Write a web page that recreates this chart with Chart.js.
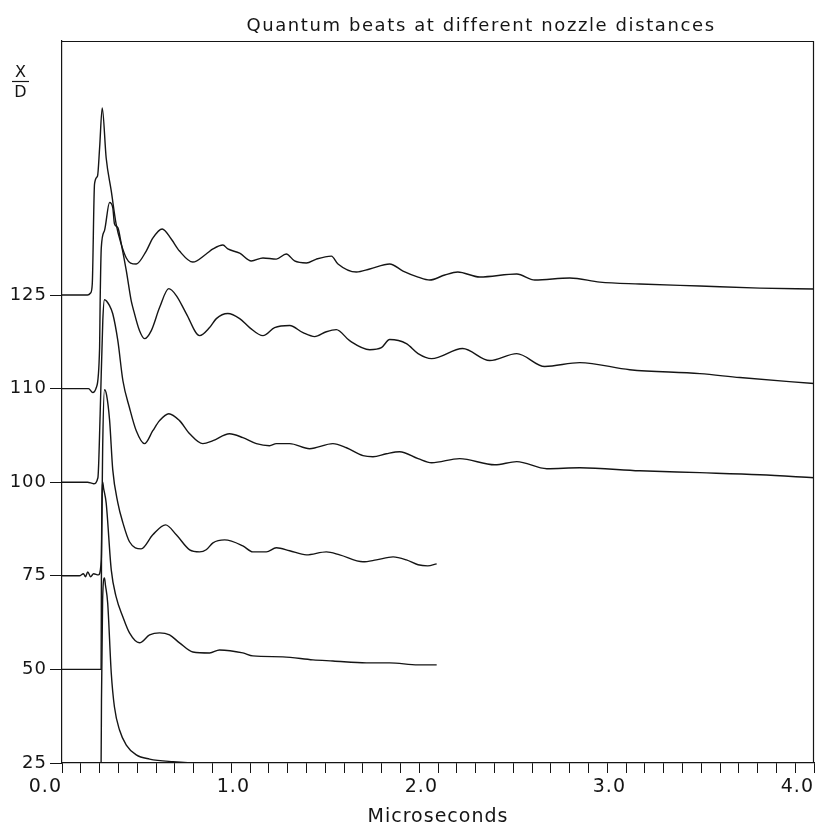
<!DOCTYPE html>
<html>
<head>
<meta charset="utf-8">
<title>Quantum beats at different nozzle distances</title>
<script src="https://cdn.jsdelivr.net/npm/chart.js@4.4.1/dist/chart.umd.min.js"></script>
<style>
  html, body { margin: 0; padding: 0; background: #fff; }
</style>
</head>
<body>
<canvas id="chart" width="817" height="824"></canvas>
<script>
const chartTitle = 'Quantum beats at different nozzle distances';
const xTitle = 'Microseconds';

// X/D of each trace and where its baseline sits in the stack
const nozzleLabels = ['25', '50', '75', '100', '110', '125'];
const baselineOffsets = [0, 50, 100, 150, 200, 250];

// time in microseconds, intensity scaled so the first peak is ~100
const time125 = [0, 0.136, 0.152, 0.161, 0.173, 0.189, 0.200, 0.214, 0.235, 0.262, 0.288, 0.315, 0.342, 0.365, 0.395, 0.448, 0.483, 0.533, 0.581, 0.625, 0.696, 0.767, 0.803, 0.856, 0.882, 0.945, 1.007, 1.069, 1.140, 1.193, 1.237, 1.300, 1.353, 1.433, 1.468, 1.566, 1.637, 1.743, 1.814, 1.894, 1.956, 2.036, 2.105, 2.222, 2.419, 2.515, 2.701, 2.861, 3.073, 3.393, 3.712, 4.000];
const beat125 = [0, 0, 1.1, 5.9, 59.3, 63.6, 78.5, 99.9, 73.2, 55.6, 37.9, 27.2, 19.8, 17.1, 16.6, 23.5, 30.4, 35.3, 29.9, 23.5, 17.6, 21.9, 24.6, 26.7, 24.6, 22.4, 18.2, 19.8, 19.2, 21.9, 18.2, 17.1, 19.2, 20.8, 16.6, 12.3, 13.9, 16.6, 12.8, 9.6, 8.0, 10.7, 12.3, 9.6, 11.2, 8.0, 9.1, 6.9, 5.9, 4.8, 3.7, 3.2];

const time110 = [0, 0.141, 0.164, 0.182, 0.200, 0.203, 0.209, 0.226, 0.253, 0.270, 0.279, 0.297, 0.315, 0.342, 0.368, 0.377, 0.412, 0.439, 0.475, 0.519, 0.568, 0.608, 0.661, 0.732, 0.785, 0.821, 0.882, 0.945, 0.998, 1.069, 1.131, 1.211, 1.282, 1.344, 1.406, 1.459, 1.530, 1.637, 1.699, 1.743, 1.832, 1.894, 1.966, 2.131, 2.275, 2.419, 2.568, 2.754, 3.020, 3.393, 3.606, 4.000];
const beat110 = [0, 0, -2.1, 0.5, 21.9, 47.0, 75.3, 84.4, 99.4, 96.7, 88.1, 86.0, 77.5, 63.0, 47.0, 43.3, 31.0, 26.7, 31.0, 43.3, 53.4, 49.7, 40.1, 28.3, 32.6, 37.4, 40.1, 37.4, 32.6, 28.3, 32.6, 33.7, 29.9, 27.8, 30.4, 31.5, 25.6, 20.8, 21.9, 26.2, 24.0, 18.7, 16.0, 21.4, 15.0, 18.7, 11.8, 13.9, 10.1, 8.0, 5.9, 2.7];

const time100 = [0, 0.136, 0.168, 0.191, 0.203, 0.217, 0.226, 0.253, 0.270, 0.297, 0.324, 0.359, 0.395, 0.439, 0.483, 0.519, 0.568, 0.625, 0.679, 0.749, 0.803, 0.891, 0.962, 1.034, 1.104, 1.140, 1.211, 1.317, 1.441, 1.513, 1.601, 1.654, 1.725, 1.796, 1.894, 1.966, 2.115, 2.302, 2.419, 2.579, 2.754, 3.073, 3.393, 3.712, 4.000];
const beat100 = [0, 0, -0.8, 2.4, 36.6, 86.3, 97.5, 94.3, 90.0, 75.6, 54.2, 39.8, 27.5, 20.6, 27.5, 32.9, 36.6, 32.9, 25.9, 20.6, 22.2, 25.9, 23.8, 20.6, 19.5, 20.6, 20.6, 17.9, 20.6, 18.4, 14.2, 13.6, 15.2, 16.3, 12.6, 10.4, 12.6, 9.3, 11.0, 7.2, 7.7, 6.1, 5.1, 4.0, 2.4];

const time75 = [0, 0.093, 0.114, 0.125, 0.137, 0.152, 0.168, 0.194, 0.209, 0.217, 0.226, 0.237, 0.253, 0.270, 0.297, 0.324, 0.359, 0.421, 0.483, 0.551, 0.608, 0.679, 0.732, 0.767, 0.803, 0.865, 0.962, 1.015, 1.087, 1.140, 1.211, 1.300, 1.406, 1.477, 1.601, 1.672, 1.761, 1.832, 1.894, 1.945, 1.993];
const beat75 = [0, 0, 1.1, -0.5, 2.1, -0.5, 1.1, 0.5, 8.5, 72.6, 99.4, 96.7, 83.3, 56.6, 39.0, 28.3, 18.2, 14.4, 21.9, 27.2, 21.9, 13.9, 12.8, 13.9, 17.6, 19.2, 16.0, 12.8, 12.8, 15.0, 13.4, 11.2, 12.8, 11.2, 7.5, 8.5, 10.1, 8.5, 5.9, 5.3, 6.4];

const time50 = [0, 0.208, 0.210, 0.216, 0.221, 0.235, 0.262, 0.288, 0.324, 0.359, 0.412, 0.466, 0.519, 0.572, 0.625, 0.696, 0.785, 0.838, 0.962, 1.015, 1.175, 1.335, 1.441, 1.619, 1.743, 1.894, 1.993];
const beat50 = [0, 0, 58.5, 100.2, 96.9, 88.9, 53.2, 38.7, 28.0, 19.5, 14.2, 18.4, 19.5, 18.4, 14.2, 9.3, 8.8, 10.4, 8.8, 7.2, 6.7, 5.1, 4.5, 3.5, 3.5, 2.4, 2.4];

const time25 = [0, 0.208, 0.210, 0.216, 0.226, 0.231, 0.243, 0.262, 0.279, 0.306, 0.342, 0.395, 0.466, 0.590, 0.732, 1.993];
const beat25 = [0, 0, 33.7, 87.1, 98.8, 95.1, 85.5, 48.1, 29.9, 17.6, 9.6, 4.3, 2.1, 0.7, 0, 0];

const traces = [
  [time25, beat25],
  [time50, beat50],
  [time75, beat75],
  [time100, beat100],
  [time110, beat110],
  [time125, beat125]
];

const ink = '#151515';
Chart.defaults.font.family = "'DejaVu Sans', sans-serif";
Chart.defaults.color = ink;

// stack every trace on its own baseline
const datasets = traces.map(([times, values], i) => ({
  label: 'X/D ' + nozzleLabels[i],
  data: times.map((t, j) => ({ x: t, y: values[j] + baselineOffsets[i] })),
  borderColor: ink,
  borderWidth: 1.4,
  pointRadius: 0,
  cubicInterpolationMode: 'monotone',
  fill: false
}));

// plotter look: wide lettering, closed frame, title and X/D fraction
const plotterText = {
  id: 'plotterText',
  beforeUpdate(chart) {
    chart.ctx.letterSpacing = '1px';
  },
  afterDraw(chart) {
    const { ctx, chartArea } = chart;
    ctx.save();
    ctx.strokeStyle = ink;
    ctx.lineWidth = 1.2;
    ctx.beginPath();
    ctx.moveTo(chartArea.left, chartArea.top + 0.5);
    ctx.lineTo(chartArea.right - 0.5, chartArea.top + 0.5);
    ctx.lineTo(chartArea.right - 0.5, chartArea.bottom);
    ctx.stroke();

    ctx.fillStyle = ink;
    ctx.font = "18px 'DejaVu Sans', sans-serif";
    ctx.letterSpacing = '1.6px';
    ctx.textAlign = 'center';
    ctx.textBaseline = 'alphabetic';
    ctx.fillText(chartTitle, 481, 31);

    ctx.font = "16px 'DejaVu Sans', sans-serif";
    ctx.letterSpacing = '0px';
    ctx.fillText('X', 20.5, 77);
    ctx.fillText('D', 20.5, 97);
    ctx.lineWidth = 1.2;
    ctx.beginPath();
    ctx.moveTo(12, 81.5);
    ctx.lineTo(29, 81.5);
    ctx.stroke();
    ctx.restore();
  }
};

new Chart(document.getElementById('chart'), {
  type: 'line',
  data: { datasets },
  options: {
    responsive: false,
    animation: false,
    devicePixelRatio: 1,
    layout: { padding: { top: 41, right: 3, left: 0, bottom: 0 } },
    plugins: {
      legend: { display: false },
      tooltip: { enabled: false },
      title: { display: false }
    },
    scales: {
      x: {
        type: 'linear',
        min: 0,
        max: 4,
        border: { color: ink, width: 1.2 },
        grid: { drawOnChartArea: false, tickLength: 10, tickColor: ink, tickWidth: 1 },
        ticks: {
          stepSize: 0.1,
          autoSkip: false,
          maxRotation: 0,
          align: 'end',
          padding: 3,
          color: ink,
          font: { size: 19 },
          callback: (v) => Math.abs(v - Math.round(v)) < 1e-6 ? v.toFixed(1) : ''
        },
        title: {
          display: true,
          text: xTitle,
          color: ink,
          font: { size: 19 },
          padding: { top: 0, bottom: -4 }
        },
        afterFit: (s) => { s.height = 61; s.paddingLeft = 0; s.paddingRight = 0; }
      },
      y: {
        type: 'linear',
        min: 0,
        max: 385.7,
        border: { color: ink, width: 1.2 },
        grid: { drawOnChartArea: false, tickLength: 12, tickColor: ink, tickWidth: 1 },
        afterBuildTicks: (s) => { s.ticks = baselineOffsets.map(v => ({ value: v })); },
        ticks: {
          padding: 3,
          color: ink,
          font: { size: 18 },
          callback: (v) => nozzleLabels[baselineOffsets.indexOf(v)] ?? ''
        },
        afterFit: (s) => { s.width = 62; s.paddingTop = 0; s.paddingBottom = 0; }
      }
    }
  },
  plugins: [plotterText]
});
</script>
</body>
</html>
